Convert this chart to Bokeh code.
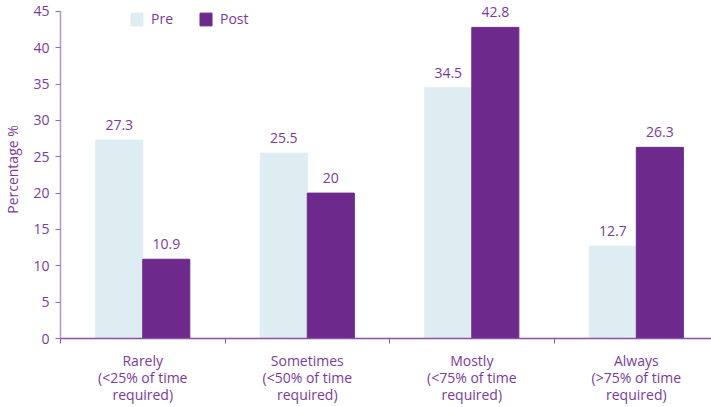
from bokeh.plotting import figure
from bokeh.models import Range1d, FixedTicker, ColumnDataSource, Legend, LegendItem, LabelSet
from bokeh.embed import file_html
from bokeh.resources import INLINE
from bokeh.core.properties import value

categories = ["Rarely\n(<25% of time\nrequired)", "Sometimes\n(<50% of time\nrequired)",
              "Mostly\n(<75% of time\nrequired)", "Always\n(>75% of time\nrequired)"]
pre = [27.3, 25.5, 34.5, 12.7]
post = [10.9, 20, 42.8, 26.3]
y_ticks = [0, 5, 10, 15, 20, 25, 30, 35, 40, 45]

FONT = "Open Sans"
TXT = "#7b3a9c"
PRE_C = "#deedf1"
POST_C = "#6d2a8c"

bw = 0.286
idx = list(range(len(categories)))
centers = [i + 0.5 for i in idx]
src = ColumnDataSource(dict(
    xpre=[c - bw / 2 for c in centers], xpost=[c + bw / 2 for c in centers],
    pre=pre, post=post,
    lpre=[str(v) for v in pre], lpost=[str(v) for v in post]))

p = figure(frame_width=651, frame_height=338, output_backend="svg", toolbar_location=None,
           x_range=Range1d(0, 3.957), y_range=Range1d(0, 46.5),
           min_border_left=54, min_border_right=0, min_border_top=0, min_border_bottom=6)
p.outline_line_color = None
p.grid.grid_line_color = None

r1 = p.vbar(x="xpre", top="pre", width=bw, source=src, color=PRE_C)
r2 = p.vbar(x="xpost", top="post", width=bw, source=src, color=POST_C)
for xcol, ycol, lcol in [("xpre", "pre", "lpre"), ("xpost", "post", "lpost")]:
    p.add_layout(LabelSet(x=xcol, y=ycol, text=lcol, source=src, text_align="center",
                          text_baseline="bottom", y_offset=10, text_font=value(FONT),
                          text_font_size="14px", text_color=TXT))

xa = p.xaxis[0]
xa.ticker = FixedTicker(ticks=centers, minor_ticks=[0, 1, 2, 3, 4])
xa.major_label_overrides = {c: categories[i] for i, c in enumerate(centers)}
xa.major_tick_line_color = None
xa.minor_tick_in = 0
xa.minor_tick_out = 5
xa.minor_tick_line_color = "#8a4fa8"
xa.axis_line_color = "#8a4fa8"
xa.axis_line_width = 1.5
xa.major_label_text_font = FONT
xa.major_label_text_font_size = "14px"
xa.major_label_text_color = TXT
xa.major_label_standoff = 6
xa.major_label_text_line_height = 0.9

ya = p.yaxis[0]
ya.ticker = FixedTicker(ticks=y_ticks)
ya.bounds = (0, 45)
ya.minor_tick_line_color = None
ya.major_tick_in = 0
ya.major_tick_out = 5
ya.major_tick_line_color = "#9a63b5"
ya.axis_line_color = "#b98fcc"
ya.axis_line_width = 1.5
ya.major_label_text_font = FONT
ya.major_label_text_font_size = "14px"
ya.major_label_text_color = TXT
ya.major_label_standoff = 6
ya.axis_label = "Percentage %"
ya.axis_label_text_font = FONT
ya.axis_label_text_font_size = "14px"
ya.axis_label_text_font_style = "normal"
ya.axis_label_text_color = TXT
ya.axis_label_standoff = 8

legend = Legend(items=[LegendItem(label="Pre", renderers=[r1]), LegendItem(label="Post", renderers=[r2])],
                orientation="horizontal", location=(69, 310), padding=0, margin=0, spacing=25,
                glyph_width=15, glyph_height=16, label_height=16, label_standoff=7,
                label_text_font=FONT, label_text_font_size="14px", label_text_color=TXT,
                border_line_color=None, background_fill_alpha=0)
p.add_layout(legend, "center")

open("out.html", "w").write(file_html(p, INLINE))
